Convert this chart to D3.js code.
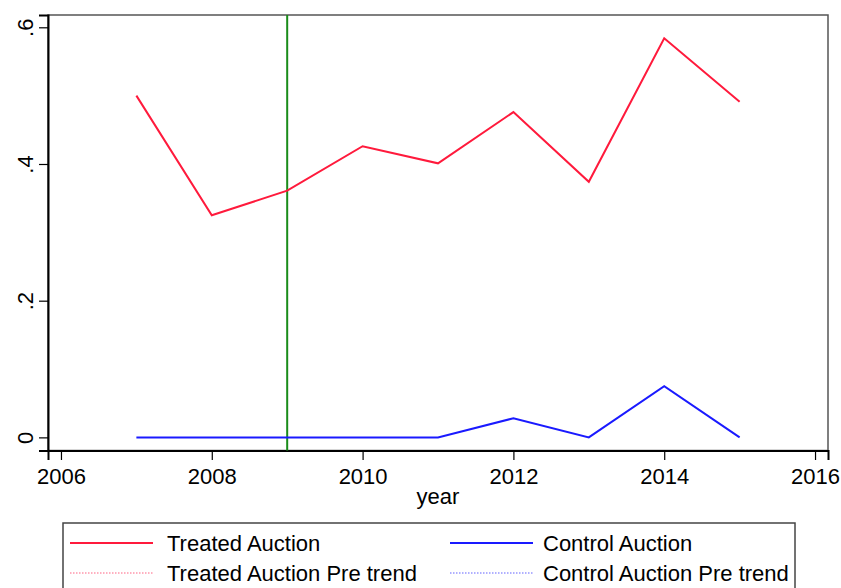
<!DOCTYPE html>
<html><head><meta charset="utf-8">
<script src="https://cdn.jsdelivr.net/npm/d3@7"></script>
<style>body{margin:0;background:#fff}svg{display:block;font-family:"Liberation Sans",Arial,sans-serif}</style>
</head><body><svg id="c" width="841" height="588"></svg>
<script>
const years = [2007, 2008, 2009, 2010, 2011, 2012, 2013, 2014, 2015];
const treated = [0.500, 0.325, 0.361, 0.426, 0.401, 0.476, 0.374, 0.584, 0.491];
const control = [0, 0, 0, 0, 0, 0.028, 0, 0.075, 0];
const xTicks = [2006, 2008, 2010, 2012, 2014, 2016];
const yTicks = [0, 0.2, 0.4, 0.6];
const yTickLabels = ["0", ".2", ".4", ".6"];
const treatYear = 2009;
const legendItems = [
  {label: "Treated Auction", color: "#ff1a3c", dash: null},
  {label: "Control Auction", color: "#1a1aff", dash: null},
  {label: "Treated Auction Pre trend", color: "#ffb0c0", dash: "1.5,1.5"},
  {label: "Control Auction Pre trend", color: "#b0b0ff", dash: "1.5,1.5"}
];

const svg = d3.select("#c");
const L = 48, R = 828, T = 15, B = 450.5;
const x = d3.scaleLinear().domain([2005.828, 2016.172]).range([L, R]);
const y = d3.scaleLinear().domain([-0.0192, 0.618]).range([B, T]);
const FS = 22;

// frame
svg.append("rect").attr("x", L).attr("y", T).attr("width", R - L).attr("height", B - T)
  .attr("fill", "none").attr("stroke", "#555").attr("stroke-width", 1.5);

// axes
const xa = svg.append("g").attr("transform", `translate(0,${B})`)
  .call(d3.axisBottom(x).tickValues(xTicks).tickFormat(d3.format("d")).tickSize(9.5).tickPadding(8));
xa.select(".domain").attr("stroke", "#000").attr("stroke-width", 2);
xa.selectAll(".tick line").attr("stroke", "#000").attr("stroke-width", 1.2);
xa.selectAll("text").attr("font-size", FS).attr("fill", "#000").attr("font-family", "Liberation Sans, Arial, sans-serif");

const ya = svg.append("g").attr("transform", `translate(${L},0)`)
  .call(d3.axisLeft(y).tickValues(yTicks).tickFormat((d, i) => yTickLabels[i]).tickSize(9).tickPadding(4));
ya.select(".domain").attr("stroke", "#000").attr("stroke-width", 2);
ya.selectAll(".tick line").attr("stroke", "#000").attr("stroke-width", 1.2);
ya.selectAll("text").attr("font-size", FS).attr("fill", "#000")
  .attr("font-family", "Liberation Sans, Arial, sans-serif")
  .attr("text-anchor", "middle").attr("dy", null).attr("x", null)
  .attr("transform", "translate(-23,0) rotate(-90)").attr("dominant-baseline", "central");

svg.append("text").attr("x", (x(2006) + x(2016)) / 2).attr("y", 504)
  .attr("text-anchor", "middle").attr("font-size", FS).text("year");

// vertical line
svg.append("line").attr("x1", x(treatYear)).attr("x2", x(treatYear)).attr("y1", T).attr("y2", B)
  .attr("stroke", "#1a8c1a").attr("stroke-width", 2);

const line = d3.line().x((d, i) => x(years[i])).y(d => y(d));
svg.append("path").datum(control).attr("d", line).attr("fill", "none")
  .attr("stroke", "#1a1aff").attr("stroke-width", 2);
svg.append("path").datum(treated).attr("d", line).attr("fill", "none")
  .attr("stroke", "#ff1a3c").attr("stroke-width", 2);

// legend
svg.append("rect").attr("x", 63).attr("y", 523).attr("width", 732).attr("height", 80)
  .attr("fill", "#fff").attr("stroke", "#444").attr("stroke-width", 1.5);
const cols = [70, 450], txtX = [167, 543], rows = [543, 573];
legendItems.forEach((it, i) => {
  const c = i % 2, cx = cols[c], cy = rows[Math.floor(i / 2)];
  svg.append("line").attr("x1", cx).attr("x2", cx + 83).attr("y1", cy).attr("y2", cy)
    .attr("stroke", it.color).attr("stroke-width", 2).attr("stroke-dasharray", it.dash);
  svg.append("text").attr("x", txtX[c]).attr("y", cy).attr("dy", "0.35em")
    .attr("font-size", FS).text(it.label);
});
</script></body></html>
